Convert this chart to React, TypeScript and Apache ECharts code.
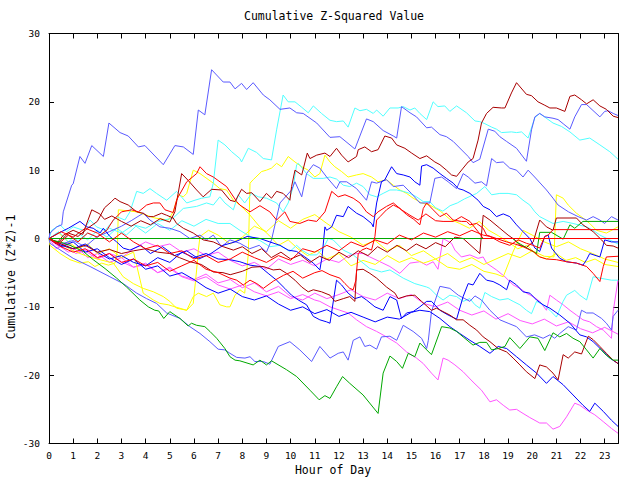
import React, { useEffect, useRef } from "react";
import * as echarts from "echarts";

// ---- axis setup ----
const xTickHours = [0,1,2,3,4,5,6,7,8,9,10,11,12,13,14,15,16,17,18,19,20,21,22,23];
const yTickValues = [-30,-20,-10,0,10,20,30];
const X_MAX = 23.55;

// ---- series data: [hour, cumulative (Z*Z)-1] ----
const mblue1: [number, number][] = [[0,0],[0.04,0.8],[0.32,1.7],[0.53,2.0],[0.59,3.9],[0.94,7.8],[1.0,8.0],[1.28,12.0],[1.49,11.0],[1.77,13.6],[2.25,12.0],[2.48,16.9],[2.94,15.5],[3.28,15.0],[3.7,13.4],[3.97,13.6],[4.73,10.8],[5.21,13.6],[5.56,13.4],[5.97,12.3],[6.18,18.8],[6.45,18.1],[6.73,24.7],[7.21,22.9],[7.49,22.9],[7.7,21.9],[7.97,22.7],[8.18,21.8],[8.45,22.8],[8.87,21.0],[9.14,20.3],[9.56,18.9],[9.97,19.1],[10.25,18.4],[10.52,18.3],[11.08,16.9],[11.63,14.8],[12.04,14.9],[12.66,13.1],[13.14,17.5],[13.42,17.1],[13.83,15.8],[14.25,15.0],[14.39,14.7],[14.59,19.3],[14.94,18.4],[15.21,17.8],[15.63,16.2],[15.83,16.3],[16.18,15.2],[16.45,14.9],[16.73,14.2],[17.35,12.0],[17.55,11.1],[17.83,11.6],[17.9,12.5],[18.18,16.0],[18.45,15.7],[18.66,14.9],[18.94,14.2],[19.35,13.2],[19.76,11.3],[19.97,15.9],[20.11,17.8],[20.31,18.3],[20.52,17.8],[20.86,17.6],[21.07,17.4],[21.28,16.8],[21.56,16.0],[21.76,17.8],[22.04,19.6],[22.25,19.6],[22.8,17.8],[23.0,18.6],[23.14,18.7],[23.35,18.3],[23.55,18.0]];
const dred1: [number, number][] = [[0,0],[0.3,-0.8],[0.6,0.5],[1.0,1.2],[1.4,0.6],[1.77,4.2],[2.1,3.6],[2.3,2.8],[2.6,3.3],[3.0,2.5],[3.4,1.8],[3.8,2.6],[4.2,2.0],[4.6,2.9],[5.0,2.4],[5.21,3.9],[5.49,9.5],[5.76,8.5],[6.11,7.1],[6.38,6.1],[6.73,7.2],[7.14,7.1],[7.49,5.6],[7.7,5.4],[7.97,7.2],[8.18,6.6],[8.39,6.7],[8.73,5.4],[9.0,6.6],[9.21,5.9],[9.42,6.9],[9.69,6.6],[9.97,5.6],[10.04,7.6],[10.18,10.0],[10.46,9.3],[10.69,12.5],[10.8,11.7],[11.08,12.2],[11.42,12.5],[11.63,12.0],[11.9,13.2],[12.11,12.2],[12.38,11.2],[12.73,12.0],[12.8,13.0],[13.07,13.4],[13.35,12.7],[13.62,13.0],[13.9,15.0],[14.18,14.7],[14.39,13.7],[14.73,13.2],[15.01,12.5],[15.35,11.7],[15.63,12.1],[15.97,11.2],[16.18,10.8],[16.45,10.0],[16.66,9.3],[16.87,9.1],[17.14,10.3],[17.35,11.2],[17.55,11.7],[17.76,14.4],[17.9,16.9],[18.11,18.3],[18.38,19.2],[18.73,19.1],[18.87,19.1],[19.14,21.3],[19.35,22.8],[19.76,21.1],[19.97,20.9],[20.24,20.0],[20.52,19.5],[20.73,19.1],[21.0,19.1],[21.35,18.6],[21.56,20.8],[21.76,21.0],[22.04,20.3],[22.25,19.7],[22.52,20.3],[22.8,19.4],[23.07,18.9],[23.35,17.9],[23.55,17.7]];
const cyan1: [number, number][] = [[0,0],[0.11,1.2],[0.46,2.0],[0.73,1.0],[1.0,1.7],[1.42,1.2],[1.7,2.7],[1.97,1.7],[2.32,1.2],[2.8,3.2],[3.14,2.7],[3.35,3.9],[3.63,6.9],[3.9,6.6],[4.18,7.3],[4.45,6.6],[4.87,5.6],[5.28,6.9],[5.7,5.2],[6.04,5.6],[6.32,5.9],[6.66,6.1],[6.8,8.1],[7.0,14.4],[7.28,13.7],[7.56,12.7],[7.9,11.7],[7.97,11.2],[8.25,13.2],[8.59,12.6],[8.87,11.7],[9.21,11.5],[9.42,15.9],[9.69,21.0],[9.9,20.0],[10.18,20.0],[10.46,19.2],[10.73,18.4],[10.94,19.4],[11.28,18.3],[11.63,17.3],[11.9,17.1],[12.18,17.2],[12.38,16.3],[12.66,19.1],[12.87,18.7],[13.14,18.9],[13.42,18.3],[13.56,18.8],[13.83,17.9],[14.11,19.1],[14.45,19.1],[14.66,19.3],[14.94,18.8],[15.14,19.1],[15.35,18.3],[15.63,17.4],[15.9,20.0],[16.1,19.3],[16.38,19.4],[16.59,18.6],[16.87,19.4],[17.28,18.4],[17.63,17.2],[17.83,17.1],[18.04,16.8],[18.32,16.3],[18.52,16.0],[18.73,15.5],[19.14,15.6],[19.35,15.5],[19.56,15.6],[19.83,14.7],[20.11,17.7],[20.31,18.3],[20.86,16.9],[21.21,16.4],[21.56,15.6],[21.97,14.4],[22.38,14.7],[22.8,13.7],[23.21,12.7],[23.55,11.6]];
const mblue3: [number, number][] = [[0,0],[0.5,-0.8],[1,-0.3],[1.5,-1.2],[2,0.3],[2.5,1.0],[3,1.8],[3.4,2.6],[3.9,3.7],[4.18,2.7],[4.59,1.7],[5.0,1.5],[5.42,1.0],[5.83,0],[6.25,0.5],[6.52,-0.2],[6.8,0.5],[7.14,-1.2],[7.49,-0.2],[7.9,-0.7],[8.3,-1.5],[8.7,-1.0],[9.0,-2.0],[9.21,-0.2],[9.56,5.2],[10.04,7.1],[10.18,8.3],[10.46,6.1],[10.66,9.5],[10.94,10.8],[11.21,10.3],[11.49,9.0],[11.9,7.3],[12.04,8.3],[12.32,8.3],[12.73,7.3],[13.14,5.6],[13.35,8.3],[13.56,8.1],[13.97,8.6],[14.25,7.6],[14.66,7.8],[15.0,6.6],[15.35,5.2],[15.76,5.2],[15.97,8.8],[16.25,9.0],[16.52,8.3],[16.87,7.3],[17.14,9.5],[17.35,9.0],[17.63,8.1],[17.9,8.3],[18.11,7.7],[18.32,11.7],[18.52,11.1],[18.8,11.2],[19.07,10.3],[19.35,10.0],[19.62,9.0],[19.83,10.0],[20.1,9.0],[20.59,7.1],[20.86,5.9],[21.07,4.9],[21.5,3.9],[21.9,3.2],[22.25,2.7],[22.52,3.2],[22.8,2.7],[23.0,2.2],[23.28,3.2],[23.55,2.7]];
const blue1: [number, number][] = [[0,0],[0.4,0.8],[0.8,1.5],[1.28,2.5],[1.56,1.7],[1.83,1.5],[2.11,0.8],[2.25,1.5],[2.52,0.3],[2.8,-0.5],[3.07,-1.4],[3.35,-1.7],[3.8,-1.0],[4.2,-2.2],[4.7,-1.2],[5.2,-2.5],[5.7,-1.8],[6.2,-3.0],[6.7,-2.2],[7.2,-1.0],[7.7,-0.5],[8.2,0.3],[8.73,0],[9.14,-0.5],[9.56,-1.0],[9.9,-1.7],[10.25,-1.9],[10.59,-2.7],[10.94,-3.6],[11.21,-4.6],[11.3,-2.7],[11.42,1.7],[11.49,1.2],[11.7,1.7],[11.9,3.4],[12.18,3.2],[12.38,4.7],[12.73,3.7],[13.0,3.2],[13.35,2.2],[13.42,1.7],[13.56,5.2],[13.76,8.3],[13.9,8.6],[14.18,10.5],[14.39,9.5],[14.66,9.3],[14.94,9.0],[15.14,8.3],[15.35,7.8],[15.42,10.6],[15.63,10.8],[15.9,10.3],[16.18,9.5],[16.45,8.8],[16.73,8.1],[16.94,7.3],[17.14,7.1],[17.42,6.6],[17.76,5.6],[17.97,4.7],[18.25,4.2],[18.52,3.2],[18.8,3.6],[19.07,3.2],[19.35,2.0],[19.62,1.0],[19.9,0.0],[20.11,-1.4],[20.31,-1.9],[20.52,0.3],[20.66,0.5],[20.8,-1.4],[21.14,-2.9],[21.42,-3.4],[21.83,-3.6],[22.1,-3.9],[22.25,-3.1],[22.38,-2.2],[22.8,-2.7],[23.0,-0.2],[23.28,-0.5],[23.55,-0.5]];
const green2: [number, number][] = [[0,0],[0.04,-0.2],[0.46,-0.5],[0.87,-1.0],[1.42,-1.9],[1.83,-3.1],[2.32,-4.4],[2.8,-5.8],[3.21,-7.1],[3.56,-8.3],[3.76,-9.0],[4.11,-10.0],[4.38,-10.5],[4.54,-10.6],[4.75,-11.7],[5.0,-10.7],[5.42,-11.7],[5.76,-12.8],[5.9,-12.4],[6.11,-12.7],[6.45,-12.9],[6.66,-13.6],[6.94,-14.6],[7.28,-16.1],[7.49,-17.3],[7.7,-17.8],[7.9,-17.9],[8.45,-18.5],[8.73,-17.8],[9.0,-18.5],[9.21,-17.9],[9.83,-19.2],[10.25,-20.2],[10.8,-22.2],[11.18,-23.6],[11.42,-23.0],[11.63,-23.4],[11.9,-21.7],[12.15,-20.2],[12.45,-21.2],[13.0,-22.9],[13.62,-25.6],[13.83,-19.7],[14.11,-17.2],[14.39,-18.0],[14.63,-19.0],[14.87,-16.8],[15.14,-17.3],[15.35,-15.3],[15.83,-17.0],[16.25,-12.9],[16.59,-13.1],[16.87,-13.6],[17.14,-14.4],[17.55,-15.6],[17.83,-15.2],[18.11,-15.2],[18.32,-16.3],[18.59,-16.1],[18.87,-15.8],[19.07,-14.5],[19.49,-16.1],[19.9,-14.4],[20.24,-14.6],[20.52,-16.4],[20.86,-13.8],[21.14,-14.4],[21.42,-13.9],[21.69,-14.6],[21.97,-15.1],[22.25,-16.3],[22.52,-17.5],[22.8,-16.1],[23.07,-17.1],[23.35,-17.8],[23.55,-17.8]];
const mblue2: [number, number][] = [[0,0],[0.04,-0.7],[1.0,-2.9],[1.7,-4.1],[2.52,-5.6],[3.07,-6.6],[3.63,-8.0],[4.04,-8.8],[4.45,-9.5],[4.87,-10.9],[5.42,-11.7],[5.83,-12.9],[6.25,-13.9],[6.66,-15.1],[7.0,-16.2],[7.28,-16.3],[7.49,-16.8],[7.77,-17.4],[8.11,-17.5],[8.32,-17.3],[8.52,-18.0],[8.87,-18.0],[9.14,-18.4],[9.49,-15.8],[9.97,-15.1],[10.38,-16.3],[10.87,-18.0],[11.21,-15.8],[11.63,-17.5],[11.97,-16.8],[12.18,-16.6],[12.38,-17.8],[12.59,-14.9],[12.87,-14.4],[13.07,-15.8],[13.28,-15.6],[13.56,-16.2],[13.76,-14.4],[14.11,-14.3],[14.39,-14.9],[14.66,-12.7],[15.07,-13.6],[15.42,-14.6],[15.63,-16.1],[15.7,-14.9],[15.83,-10.7],[16.18,-7.0],[16.59,-7.3],[16.94,-8.3],[17.21,-8.8],[17.42,-9.2],[17.63,-8.4],[17.9,-9.0],[18.25,-10.5],[18.66,-11.9],[19.0,-12.4],[19.35,-12.9],[19.76,-14.4],[20.1,-14.1],[20.45,-14.6],[20.73,-14.1],[20.93,-14.6],[21.14,-13.9],[21.49,-12.9],[21.83,-13.4],[22.04,-10.5],[22.25,-10.9],[22.52,-10.9],[22.87,-11.7],[23.07,-12.4],[23.28,-13.4],[23.35,-11.4],[23.55,-10.5]];
const dred2: [number, number][] = [[0,0],[0.5,-0.8],[1,-1.5],[1.5,-1.0],[2,-2.0],[2.5,-1.6],[3,-2.2],[3.5,-1.8],[4,-1.5],[4.5,-2.0],[5,-2.2],[5.4,-2.8],[5.83,-3.4],[6.3,-3.8],[6.8,-4.9],[7.2,-5.0],[7.5,-5.3],[8,-4.8],[8.4,-4.2],[8.87,-4.1],[9.28,-4.6],[9.56,-4.5],[9.83,-5.1],[10.18,-6.1],[10.46,-7.1],[10.73,-7.8],[10.94,-7.5],[11.28,-7.8],[11.63,-8.3],[11.83,-9.2],[12.18,-8.8],[12.45,-8.5],[12.66,-9.2],[12.73,-4.6],[13.0,-4.5],[13.28,-5.1],[13.56,-5.8],[13.97,-7.1],[14.32,-8.0],[14.45,-8.8],[14.8,-8.4],[15.14,-8.3],[15.42,-9.2],[15.83,-10.5],[16.04,-10.2],[16.31,-10.7],[16.59,-11.2],[16.87,-11.9],[17.14,-11.9],[17.42,-12.7],[17.7,-13.4],[17.97,-14.4],[18.25,-15.1],[18.59,-16.1],[18.94,-16.6],[19.21,-17.5],[19.49,-18.5],[19.76,-19.5],[20.11,-20.5],[20.31,-18.5],[20.59,-18.8],[20.86,-19.7],[21.07,-20.7],[21.28,-17.0],[21.49,-17.5],[21.76,-16.6],[22.04,-16.9],[22.18,-15.6],[22.32,-14.3],[22.52,-14.8],[22.8,-15.8],[23.07,-16.8],[23.35,-17.8],[23.55,-18.3]];
const dred3: [number, number][] = [[0,0],[0.4,-0.6],[0.8,0.8],[1.2,0.3],[1.6,1.5],[2.0,2.5],[2.3,4.5],[2.59,5.4],[2.73,5.9],[2.94,5.4],[3.28,4.9],[3.63,3.9],[3.9,3.7],[4.11,3.2],[4.32,3.2],[4.66,3.7],[4.87,3.4],[5.14,3.0],[5.28,2.2],[5.56,1.5],[5.97,0.8],[6.38,-0.2],[6.8,-0.5],[7.21,-1.2],[7.63,-1.7],[8.0,-1.2],[8.4,-2.2],[8.8,-1.5],[9.2,-2.8],[9.6,-2.0],[10.0,-3.0],[10.4,-2.4],[10.8,-3.5],[11.2,-2.6],[11.6,-3.2],[12.0,-2.0],[12.4,-2.8],[12.8,-1.8],[13.2,-2.5],[13.6,-1.2],[14.0,-2.0],[14.4,-1.0],[14.8,-1.8],[15.2,-0.8],[15.6,-1.5],[16.0,-0.6],[16.4,-1.2],[16.8,0.2],[17.14,0.0],[17.83,-2.2],[17.97,3.4],[18.25,2.7],[18.66,1.5],[19.0,0.5],[19.28,-0.2],[19.49,-1.0],[19.76,-1.3],[20.04,-0.5],[20.31,2.7],[20.59,1.7],[20.86,1.2],[21.0,3.0],[21.83,3.0],[22.1,2.0],[22.52,1.0],[22.87,-0.2],[23.07,-1.0],[23.35,-1.1],[23.55,-1.4]];
const green1: [number, number][] = [[0,0],[23.55,0]];
const green3: [number, number][] = [[0,0],[19.2,0],[19.35,-0.5],[20.18,-2.2],[20.31,0.9],[20.8,0.9],[21.28,-0.1],[21.56,2.0],[21.76,1.5],[22.1,2.5],[23.55,2.5]];
const cyan2: [number, number][] = [[0,0],[0.4,-0.8],[0.8,0.5],[1.2,-0.3],[1.6,0.8],[2,0.2],[2.5,1.5],[3,0.8],[3.5,2.0],[4,1.5],[4.5,2.5],[5.14,3.0],[5.56,4.4],[6.11,4.7],[6.52,5.2],[6.8,4.9],[7.07,6.1],[7.28,5.2],[7.63,4.2],[7.83,6.4],[8.1,5.2],[8.39,6.6],[8.66,6.1],[9.0,5.9],[9.42,5.2],[9.69,3.9],[9.9,5.2],[10.11,7.6],[10.25,10.8],[10.32,11.0],[10.66,9.5],[10.94,8.8],[11.35,8.8],[11.63,9.0],[11.9,8.7],[12.18,7.8],[12.45,7.6],[12.73,8.1],[13.0,7.6],[13.28,6.4],[13.56,6.1],[13.83,6.6],[14.11,7.1],[14.39,7.1],[14.66,6.9],[14.94,6.6],[15.21,6.1],[15.49,5.4],[15.76,5.4],[16.0,4.5],[16.3,4.0],[16.6,4.8],[16.9,5.2],[17.2,5.8],[17.7,6.6],[18.04,7.6],[18.32,6.4],[18.66,6.6],[19.0,6.6],[19.35,6.4],[19.62,5.6],[19.9,4.9],[20.11,3.9],[20.31,3.2],[20.86,2.2],[21.28,2.5],[21.69,2.2],[22.25,1.7],[22.52,1.2],[22.8,0.5],[23.2,-0.2],[23.55,-0.8]];
const cyan3: [number, number][] = [[0,0],[0.4,1.0],[0.8,-0.5],[1.2,0.8],[1.6,-0.2],[2,1.2],[2.4,0.2],[2.8,1.5],[3.2,0.5],[3.6,1.8],[4,0.8],[4.5,2.2],[5,1.2],[5.5,2.6],[6,1.8],[6.5,2.8],[7,2.2],[7.49,2.2],[7.9,1.2],[8.32,0.3],[8.73,-0.3],[9.14,-1.2],[9.56,-1.0],[9.97,-1.9],[10.25,-1.0],[10.46,-1.7],[10.8,-2.4],[11.08,-2.4],[11.35,-1.4],[11.56,0.0],[11.76,-0.2],[12.18,-1.7],[12.59,-2.4],[13.0,-3.6],[13.28,-4.4],[13.76,-4.9],[14.11,-4.6],[14.66,-5.8],[15.14,-6.6],[15.63,-7.1],[15.76,-7.3],[16.04,-8.3],[16.31,-9.0],[16.59,-8.3],[16.87,-8.5],[17.14,-9.2],[17.42,-8.8],[17.63,-9.7],[17.83,-10.2],[18.04,-7.9],[18.32,-8.5],[18.66,-9.0],[19.0,-8.8],[19.21,-9.2],[19.49,-9.7],[19.76,-10.5],[19.97,-11.0],[20.18,-9.2],[20.45,-9.7],[20.73,-10.5],[21.0,-11.5],[21.28,-9.2],[21.42,-8.3],[21.76,-7.6],[21.97,-8.3],[22.25,-9.0],[22.52,-5.6],[22.8,-5.8],[23.28,-6.1],[23.55,-6.1]];
const red1: [number, number][] = [[0,0],[0.4,-0.8],[0.8,0.5],[1.2,-0.5],[1.6,0.8],[2.0,0.2],[2.39,1.2],[2.66,2.7],[3.0,3.9],[3.42,4.2],[3.7,3.9],[4.04,4.9],[4.32,5.2],[4.59,5.2],[4.8,4.2],[5.14,3.8],[5.28,5.6],[5.35,6.1],[5.7,8.3],[6.11,9.5],[6.25,10.5],[6.52,9.5],[6.8,9.0],[7.35,7.6],[7.77,5.4],[7.9,4.9],[8.32,3.9],[8.73,4.8],[9.14,3.9],[9.42,2.7],[9.76,3.9],[9.97,2.5],[10.38,2.2],[10.73,2.7],[11.08,2.5],[11.42,3.9],[11.7,6.9],[11.97,6.1],[12.25,6.4],[12.59,5.9],[12.87,5.2],[13.14,3.9],[13.42,3.2],[13.62,3.9],[13.97,4.7],[14.25,5.2],[14.59,4.2],[14.94,3.4],[15.28,2.7],[15.6,3.6],[16.0,2.6],[16.31,2.5],[16.73,2.5],[17.07,3.2],[17.42,2.5],[17.76,1.0],[17.97,0],[23.55,0]];
const red2: [number, number][] = [[0,0],[0.5,1.0],[1,0.2],[1.5,1.5],[2,0.8],[2.5,-0.5],[3,0.8],[3.5,-0.5],[4,-1.5],[4.5,-1.0],[5,-2.2],[5.5,-1.8],[6,-3.0],[6.5,-2.5],[7,-3.5],[7.5,-3.0],[8,-2.0],[8.5,-2.8],[9,-3.5],[9.5,-2.5],[10,-3.2],[10.5,-1.5],[11,-2.0],[11.5,-1.0],[12,-1.8],[12.5,-0.5],[13,-1.2],[13.5,-0.2],[14,-0.8],[14.5,0.5],[15,-0.2],[15.5,0.8],[16,0.2],[16.5,1.0],[17,0.4],[17.5,1.2],[17.97,0.5],[18.25,0.3],[18.66,-0.5],[19.07,-1.0],[19.42,-0.2],[19.76,-0.7],[20.04,-1.0],[20.31,-1.4],[20.52,0.3],[20.66,0.5],[20.86,1.3],[23.55,1.3]];
const red3: [number, number][] = [[0,0],[0.5,-1.2],[1,-2.0],[1.5,-1.5],[2,-2.8],[2.5,-2.2],[3,-3.5],[3.5,-3.0],[4,-4.0],[4.5,-3.5],[5,-4.8],[5.5,-4.0],[6,-3.2],[6.5,-4.5],[7,-5.0],[7.49,-5.8],[7.77,-6.1],[8.04,-6.8],[8.32,-6.1],[8.6,-6.6],[8.87,-7.3],[9.3,-6.2],[9.7,-5.4],[10.1,-4.8],[10.5,-5.8],[11.0,-5.0],[11.3,-4.7],[11.63,-5.3],[12.04,-5.8],[12.25,-6.6],[12.45,-7.3],[12.59,-7.5],[12.7,-6.1],[12.76,-3.6],[12.8,-2.2],[12.94,-1.7],[13.14,-1.4],[13.35,-1.7],[13.49,0.3],[13.56,2.7],[13.7,3.2],[13.97,4.2],[14.25,4.9],[14.52,4.4],[14.8,3.5],[15.1,2.8],[15.35,2.0],[15.49,4.4],[15.63,5.2],[15.9,4.2],[16.18,3.2],[16.45,3.7],[16.73,2.7],[17.07,2.5],[17.28,2.5],[17.42,2.0],[17.7,2.2],[17.97,1.5],[18.11,0.5],[18.52,0.0],[18.94,-0.5],[19.28,-0.8],[19.62,-1.2],[20.04,-1.9],[20.31,-2.7],[20.59,-3.0],[21.0,-3.1],[21.42,-3.4],[21.83,-3.6],[22.25,-4.1],[22.52,-5.1],[22.8,-6.3],[22.94,-4.1],[23.07,-2.7],[23.55,-2.6]];
const yellow1: [number, number][] = [[0,0],[0.04,-1.0],[0.46,-2.2],[0.87,-3.1],[1.28,-3.6],[1.63,-3.4],[1.9,-4.1],[2.18,-3.6],[2.46,-3.9],[2.73,-3.6],[2.83,-1.7],[2.87,4.2],[3.63,3.9],[4.04,3.4],[4.38,3.0],[4.94,2.7],[5.14,3.9],[5.35,6.4],[5.56,6.1],[5.7,6.6],[5.97,10.0],[6.25,9.5],[6.8,8.1],[7.07,7.3],[7.35,7.1],[7.63,5.6],[7.9,4.9],[8.3,3.5],[8.7,1.8],[9.1,0.5],[9.5,-1.0],[9.9,-0.2],[10.3,-1.5],[10.7,-2.5],[11.1,-1.8],[11.5,-3.0],[12.0,-2.2],[12.5,-4.0],[13.0,-3.2],[13.5,-3.8],[14.0,-2.5],[14.5,-3.5],[15.0,-2.8],[15.5,-3.6],[16.0,-3.0],[16.5,-4.2],[17.0,-4.5],[17.5,-3.8],[18.0,-4.8],[18.5,-5.2],[18.8,-5.6],[19.2,-2.0],[19.62,1.2],[20.0,0.5],[20.5,-0.5],[21.0,-1.2],[21.5,-0.5],[22.0,-1.5],[22.5,-2.2],[23.0,-3.0],[23.55,-3.5]];
const yellow2: [number, number][] = [[0,0],[0.5,-0.8],[1,-1.8],[1.5,-2.5],[2,-3.0],[2.66,-3.6],[3.07,-5.6],[3.49,-6.6],[3.9,-7.3],[4.32,-7.8],[4.73,-8.5],[5.0,-9.2],[5.28,-10.2],[5.7,-10.5],[5.97,-8.5],[6.18,-8.0],[6.52,-8.5],[6.8,-8.0],[7.07,-9.7],[7.35,-10.0],[7.49,-10.0],[7.7,-8.3],[7.9,-7.5],[8.1,-8.0],[8.25,-2.2],[8.32,8.1],[8.45,8.6],[8.8,9.8],[9.0,10.0],[9.21,10.3],[9.42,11.0],[9.63,10.5],[9.9,12.0],[10.18,11.2],[10.46,10.5],[10.73,10.0],[11.0,9.0],[11.21,9.5],[11.42,12.2],[11.63,11.2],[11.83,10.5],[12.11,9.8],[12.38,9.0],[12.73,9.3],[13.0,9.5],[13.35,9.0],[13.62,8.3],[13.97,8.6],[14.25,7.8],[14.52,7.1],[14.8,6.6],[15.07,5.9],[15.42,5.2],[15.76,4.9],[16.2,4.0],[16.6,2.8],[17.0,2.2],[17.4,1.5],[17.8,2.5],[18.2,1.2],[18.6,0.4],[19.0,-0.5],[19.4,-1.5],[19.8,-1.0],[20.2,-2.5],[20.6,-3.0],[21.0,-2.2],[21.4,-3.2],[21.8,-2.8],[22.2,-3.5],[22.6,-3.0],[23.0,-3.8],[23.55,-4.1]];
const yellow3: [number, number][] = [[0,0],[0.4,0.8],[0.8,-0.5],[1.2,-1.5],[1.6,-0.8],[2,-2.2],[2.5,-1.5],[3,-2.8],[3.5,-2.0],[3.9,-8.0],[4.32,-9.0],[4.59,-9.5],[4.94,-9.7],[5.21,-10.0],[5.7,-10.5],[5.97,-9.5],[6.11,-4.6],[6.18,-1.7],[6.25,0.3],[6.6,1.2],[7,0.5],[7.5,-0.8],[8,0.2],[8.5,1.8],[9,1.0],[9.5,2.6],[10,1.5],[10.5,2.8],[11,3.5],[11.5,2.2],[12,1.0],[12.5,0.2],[13,-1.0],[13.5,-0.3],[14,-1.8],[14.5,-1.0],[15,-2.5],[15.5,-1.8],[16,-3.0],[16.5,-2.2],[17,-3.5],[17.5,-2.8],[18,-3.8],[18.5,-3.0],[19,-2.2],[19.5,-2.8],[20,-1.8],[20.5,-2.6],[20.9,-2.7],[21.0,6.4],[21.28,5.9],[21.49,4.9],[21.83,3.7],[22.1,3.0],[22.38,2.2],[22.66,1.2],[23.07,0.8],[23.55,1.7]];
const magenta1: [number, number][] = [[0,0],[0.4,-1.2],[0.8,-0.6],[1.2,-2.0],[1.6,-1.6],[2,-2.8],[2.5,-2.2],[3,-3.4],[3.5,-4.2],[4,-3.8],[4.5,-5.0],[5,-4.4],[5.5,-5.6],[6,-6.2],[6.5,-5.6],[7,-6.8],[7.5,-7.4],[8,-6.8],[8.5,-7.8],[9,-8.4],[9.5,-7.8],[10,-8.8],[10.5,-8.2],[11,-9.0],[11.21,-9.2],[11.63,-10.0],[12.04,-10.5],[12.38,-10.9],[12.73,-11.9],[13.14,-12.9],[13.56,-13.6],[13.97,-14.4],[14.39,-15.3],[14.8,-16.6],[15.21,-17.5],[15.49,-18.3],[15.83,-19.7],[16.1,-20.7],[16.31,-17.5],[16.52,-17.8],[16.8,-18.5],[17.14,-19.5],[17.55,-21.0],[17.9,-22.2],[18.25,-23.9],[18.52,-23.6],[18.8,-24.4],[19.07,-25.1],[19.35,-25.0],[19.62,-25.6],[19.9,-26.2],[20.31,-27.0],[20.59,-27.0],[20.86,-27.9],[21.14,-27.5],[21.42,-26.1],[21.76,-24.1],[21.97,-24.4],[22.25,-25.1],[22.59,-25.8],[22.94,-26.8],[23.28,-27.8],[23.55,-28.5]];
const magenta2: [number, number][] = [[0,0],[0.3,-1.5],[0.7,-0.8],[1.1,-2.2],[1.5,-1.8],[2,-3.0],[2.5,-2.2],[3,-2.8],[3.5,-1.5],[4,-0.5],[4.5,-1.2],[5,-0.8],[5.5,-2.0],[6,-1.5],[6.5,-2.5],[7,-2.0],[7.5,-3.2],[8,-4.0],[8.5,-3.5],[9,-4.5],[9.5,-3.0],[10,-3.8],[10.5,-3.2],[11,-4.0],[11.5,-3.0],[12,-3.5],[12.4,-2.5],[12.73,-2.2],[13.0,-2.2],[13.28,-2.7],[13.7,-3.4],[14.11,-4.1],[14.52,-5.1],[14.94,-3.6],[15.35,-3.4],[15.63,-3.9],[15.9,-3.4],[16.1,-4.5],[16.31,0],[16.66,-0.7],[16.8,-1.7],[17.07,-2.7],[17.42,-2.4],[17.76,-2.9],[17.97,-2.7],[18.11,-3.6],[18.52,-4.6],[18.87,-5.6],[19.21,-6.8],[19.49,-7.3],[19.76,-8.0],[20.04,-8.5],[20.31,-9.2],[20.59,-10.5],[20.73,-8.3],[21.0,-9.0],[21.28,-9.7],[21.56,-10.5],[21.83,-11.2],[22.1,-11.9],[22.38,-12.2],[22.66,-12.9],[22.94,-13.4],[23.28,-14.6],[23.35,-10.7],[23.55,-6.1]];
const magenta3: [number, number][] = [[0,0],[0.4,-1.0],[0.8,-2.0],[1.2,-1.4],[1.6,-2.8],[2,-2.2],[2.5,-3.5],[3,-2.8],[3.5,-4.2],[4,-3.6],[4.5,-5.0],[5,-4.2],[5.5,-5.5],[6,-6.0],[6.5,-5.2],[7,-6.5],[7.5,-6.0],[8,-7.2],[8.5,-6.5],[9,-7.8],[9.5,-7.0],[10,-8.5],[10.5,-9.0],[11,-8.0],[11.5,-8.8],[12,-8.2],[12.5,-7.5],[13,-8.5],[13.5,-9.0],[14,-8.0],[14.5,-8.8],[15,-8.2],[15.5,-9.5],[16,-10.0],[16.5,-9.3],[17,-10.5],[17.5,-11.2],[18,-10.6],[18.5,-11.8],[19,-11.0],[19.5,-12.0],[20,-12.5],[20.5,-11.8],[21,-12.8],[21.5,-12.2],[22,-13.2],[22.5,-13.8],[23,-13.0],[23.55,-14.0]];
const blue2: [number, number][] = [[0,0],[0.5,-1.0],[1,-1.5],[1.5,-0.8],[2,-2.0],[2.5,-3.0],[3,-2.5],[3.5,-3.5],[4,-4.0],[4.5,-2.8],[5,-3.5],[5.5,-2.0],[6,-2.8],[6.5,-2.2],[7,-3.0],[7.49,-3.1],[7.9,-3.4],[8.32,-3.9],[8.73,-4.1],[9.07,-5.1],[9.42,-6.1],[9.76,-7.3],[10.04,-8.3],[10.32,-9.0],[10.66,-9.7],[10.94,-11.4],[11.21,-11.9],[11.49,-12.2],[11.63,-12.4],[11.9,-6.1],[12.11,-6.8],[12.38,-8.0],[12.66,-8.8],[12.94,-8.5],[13.14,-9.0],[13.49,-10.0],[13.83,-10.5],[14.11,-8.5],[14.39,-9.0],[14.59,-11.7],[14.8,-10.9],[15.07,-10.7],[15.35,-10.0],[15.63,-9.2],[15.83,-9.2],[16.18,-10.5],[16.52,-11.2],[16.87,-11.8],[17.14,-8.5],[17.35,-6.6],[17.55,-6.8],[17.83,-5.1],[18.11,-6.1],[18.38,-6.3],[18.66,-6.8],[18.94,-7.5],[19.07,-6.1],[19.35,-6.8],[19.62,-7.8],[19.9,-8.0],[20.18,-9.0],[20.45,-9.7],[20.73,-10.2],[21.14,-11.2],[21.56,-12.4],[21.97,-14.1],[22.25,-14.4],[22.52,-15.1],[22.87,-16.3],[23.21,-17.5],[23.55,-18.3]];
const blue3: [number, number][] = [[0,0],[0.5,-1.2],[1,-0.5],[1.5,-2.0],[2,-1.5],[2.5,-2.8],[3,-3.8],[3.5,-3.0],[4,-4.5],[4.5,-4.0],[5,-5.5],[5.5,-5.0],[6,-6.0],[6.5,-7.2],[7,-8.0],[7.5,-7.4],[8,-8.5],[8.5,-9.0],[9,-8.4],[9.5,-9.6],[10,-10.5],[10.5,-10.0],[11,-11.0],[11.5,-10.4],[12,-11.4],[12.5,-10.8],[13,-11.5],[13.5,-12.2],[14,-11.5],[14.5,-11.8],[15,-10.8],[15.35,-10.5],[15.76,-10.7],[16.18,-11.7],[16.59,-12.9],[17.0,-13.9],[17.42,-14.9],[17.83,-15.8],[18.25,-16.8],[18.59,-15.8],[18.94,-16.1],[19.35,-17.3],[19.76,-18.5],[20.18,-19.7],[20.59,-21.2],[20.86,-20.2],[21.28,-21.4],[21.69,-22.9],[22.1,-24.4],[22.38,-25.3],[22.59,-24.1],[22.94,-25.3],[23.28,-26.6],[23.55,-27.5]];

const C_RED = "#ff0000";
const C_GREEN = "#00a800";
const C_BLUE = "#0000ff";
const C_MBLUE = "#5a5aff";
const C_CYAN = "#50ffff";
const C_DRED = "#a80000";
const C_YELLOW = "#ffff00";
const C_MAGENTA = "#ff55ff";

const lines: { data: [number, number][]; color: string }[] = [
  { data: magenta1, color: C_MAGENTA },
  { data: magenta2, color: C_MAGENTA },
  { data: magenta3, color: C_MAGENTA },
  { data: yellow1, color: C_YELLOW },
  { data: yellow2, color: C_YELLOW },
  { data: yellow3, color: C_YELLOW },
  { data: cyan1, color: C_CYAN },
  { data: cyan2, color: C_CYAN },
  { data: cyan3, color: C_CYAN },
  { data: mblue1, color: C_MBLUE },
  { data: mblue2, color: C_MBLUE },
  { data: mblue3, color: C_MBLUE },
  { data: blue1, color: C_BLUE },
  { data: blue2, color: C_BLUE },
  { data: blue3, color: C_BLUE },
  { data: dred1, color: C_DRED },
  { data: dred2, color: C_DRED },
  { data: dred3, color: C_DRED },
  { data: green2, color: C_GREEN },
  { data: green3, color: C_GREEN },
  { data: green1, color: C_GREEN },
  { data: red1, color: C_RED },
  { data: red2, color: C_RED },
  { data: red3, color: C_RED },
];

const MONO = "'DejaVu Sans Mono', 'Liberation Mono', monospace";

export default function App() {
  const ref = useRef<HTMLDivElement>(null);
  useEffect(() => {
    if (!ref.current) return;
    const chart = echarts.init(ref.current, undefined, { renderer: "svg" });
    const axisCommon = {
      axisLine: { show: true, onZero: false, lineStyle: { color: "#000", width: 1 } },
      axisTick: { show: true, inside: true, length: 5, lineStyle: { color: "#000", width: 1 } },
      splitLine: { show: false },
    };
    chart.setOption({
      animation: false,
      backgroundColor: "#fff",
      grid: { left: 49, right: 22, top: 33.5, bottom: 36.5, containLabel: false },
      xAxis: [
        {
          type: "value", min: 0, max: X_MAX, interval: 1, position: "bottom",
          ...axisCommon,
          axisLabel: {
            show: true, margin: 7, color: "#000", fontFamily: MONO, fontSize: 9.5,
            showMaxLabel: false,
            formatter: (v: number) => (xTickHours.includes(v) ? String(v) : ""),
          },
        },
        {
          type: "value", min: 0, max: X_MAX, interval: 1, position: "top",
          ...axisCommon, axisLabel: { show: false },
        },
      ],
      yAxis: [
        {
          type: "value", min: -30, max: 30, interval: 10, position: "left",
          ...axisCommon,
          axisLabel: {
            show: true, margin: 9, color: "#000", fontFamily: MONO, fontSize: 9.5,
            formatter: (v: number) => (yTickValues.includes(v) ? String(v) : ""),
          },
        },
        {
          type: "value", min: -30, max: 30, interval: 10, position: "right",
          ...axisCommon, axisLabel: { show: false },
        },
      ],
      graphic: [
        { type: "text", x: 334, y: 16, style: { text: "Cumulative Z-Squared Value", fill: "#000", font: `11.5px ${MONO}`, textAlign: "center", textVerticalAlign: "middle" } },
        { type: "text", x: 333, y: 470, style: { text: "Hour of Day", fill: "#000", font: `11.5px ${MONO}`, textAlign: "center", textVerticalAlign: "middle" } },
        { type: "text", x: 11, y: 277, rotation: Math.PI / 2, style: { text: "Cumulative (Z*Z)-1", fill: "#000", font: `11.5px ${MONO}`, textAlign: "center", textVerticalAlign: "middle" } },
      ],
      series: lines.map((l) => ({
        type: "line",
        data: l.data,
        xAxisIndex: 0,
        yAxisIndex: 0,
        showSymbol: false,
        symbol: "none",
        silent: true,
        lineStyle: { color: l.color, width: 1 },
        itemStyle: { color: l.color },
      })),
    });
    return () => chart.dispose();
  }, []);
  return <div ref={ref} style={{ position: "absolute", left: 0, top: 0, width: 640, height: 480 }} />;
}
